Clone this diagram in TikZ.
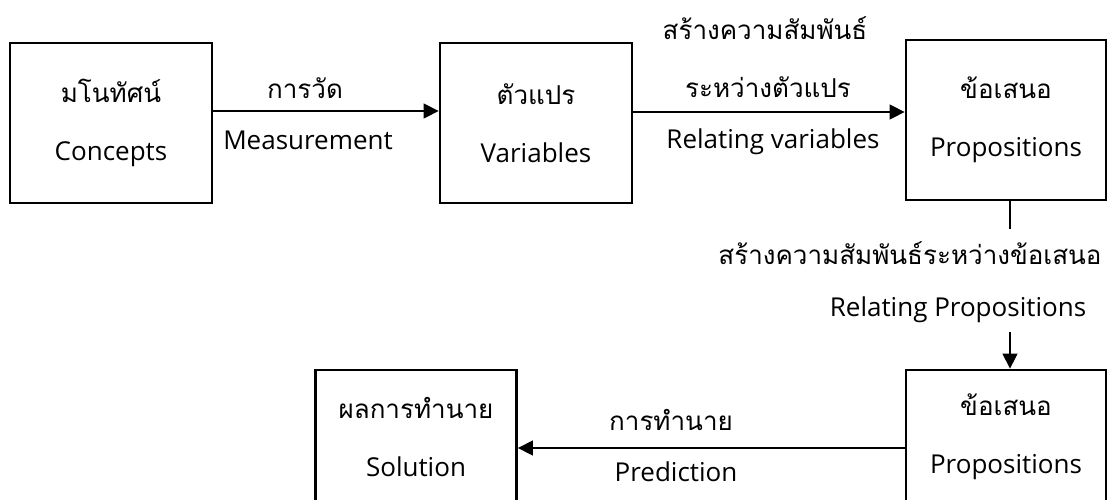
\documentclass[tikz,border=0pt]{standalone}
\usepackage{fontspec}
\setmainfont{Open Sans}
\newfontfamily\thaifont[Script=Thai]{Loma}
\usetikzlibrary{positioning, arrows.meta}

\begin{document}
\begin{tikzpicture}[x=0.5pt, y=-0.5pt]
  % styles
  \tikzset{box/.style = {draw, line width=1.4pt, minimum width=100pt, minimum height=80pt,
      inner sep=0pt, align=center, font=\fontsize{13}{29}\selectfont}}
  \tikzset{edge/.style = {draw, line width=0.7pt, -{Triangle[length=7.5pt, width=7.5pt]}}}
  \tikzset{plain/.style = {draw, line width=0.7pt}}
  \tikzset{lbl/.style = {inner sep=0pt, font=\fontsize{13}{15}\selectfont}}

  \useasboundingbox (0,0) rectangle (1108,499);
  \clip (0,0) rectangle (1108,499);

  % boxes
  \node[box, minimum width=101pt] (cpt) at (111,123) {{\thaifont มโนทัศน์}\\Concepts};
  \node[box, minimum width=96pt] (var) at (536,123) {{\thaifont ตัวแปร}\\Variables};
  \node[box] (prop1) at (1006,120) {{\thaifont ข้อเสนอ}\\Propositions};
  \node[box, minimum height=67pt] (prop2) at (1006,437) {{\thaifont ข้อเสนอ}\\Propositions};
  \node[box, minimum width=100.5pt, minimum height=67pt] (sol) at (416,437) {{\thaifont ผลการทำนาย}\\Solution};

  % labels
  \node[lbl] (meas1) at (305,88) {\thaifont การวัด};
  \node[lbl] (meas2) at (308,140) {Measurement};
  \node[lbl] (rel1) at (765,28) {\thaifont สร้างความสัมพันธ์};
  \node[lbl] (rel2) at (768,87) {\thaifont ระหว่างตัวแปร};
  \node[lbl] (rel3) at (773,142) {Relating variables};
  \node[lbl] (rp1) at (910,253) {\thaifont สร้างความสัมพันธ์ระหว่างข้อเสนอ};
  \node[lbl] (rp2) at (958,310) {Relating Propositions};
  \node[lbl] (pred1) at (671,420) {\thaifont การทำนาย};
  \node[lbl] (pred2) at (676,472) {Prediction};

  \coordinate (m1) at (1010,229);
  \coordinate (m2) at (1010,332);

  % edges
  \draw[edge] ([yshift=6pt]cpt.east) -- ([yshift=6pt]var.west);
  \draw[edge] ([yshift=5.5pt]var.east) -- ([yshift=5.5pt]var.east -| prop1.west);
  \draw[plain] (prop1.south -| m1) -- (m1);
  \draw[edge] (m2) -- (m2 |- prop2.north);
  \draw[edge] ([yshift=-5.5pt]prop2.west) -- ([yshift=-5.5pt]prop2.west -| sol.east);
\end{tikzpicture}
\end{document}
